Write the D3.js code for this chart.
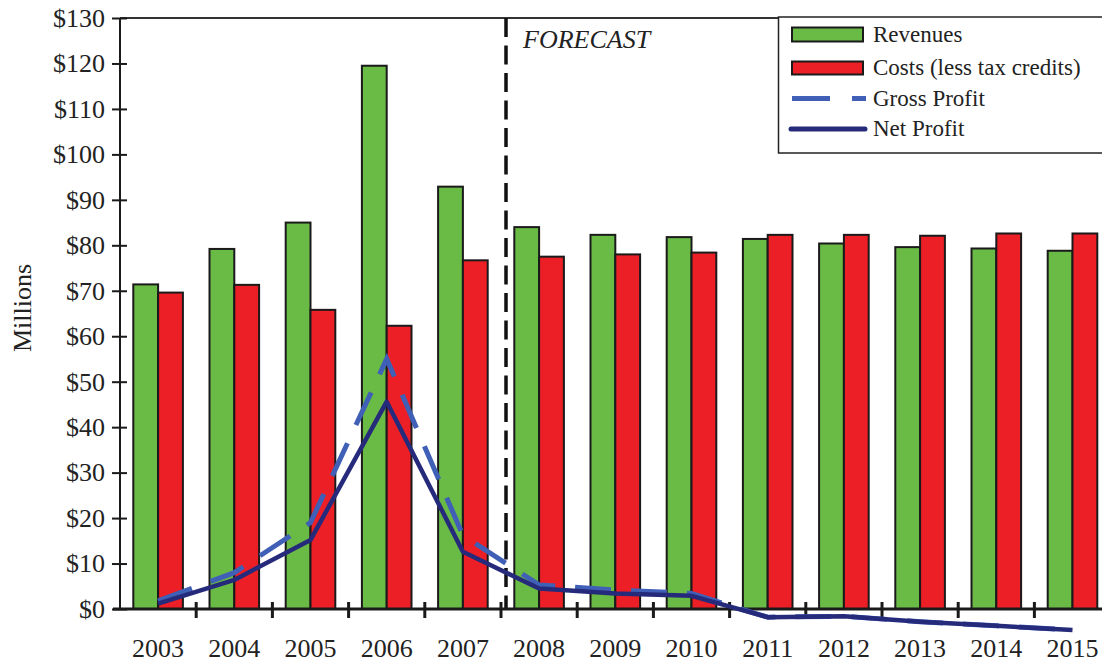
<!DOCTYPE html>
<html>
<head>
<meta charset="utf-8">
<script src="https://cdn.jsdelivr.net/npm/d3@7"></script>
<style>
  html, body { margin: 0; padding: 0; background: #fff; }
  svg { display: block; font-family: "Liberation Serif", "Times New Roman", serif; }
</style>
</head>
<body>
<svg id="chart" width="1102" height="665"></svg>
<script>
// Annual figures, $ millions
const years = ["2003","2004","2005","2006","2007","2008","2009","2010","2011","2012","2013","2014","2015"];
const revenues = [71.4, 79.2, 85.0, 119.5, 92.9, 84.0, 82.3, 81.8, 81.4, 80.4, 79.6, 79.3, 78.8];
const costs = [69.6, 71.3, 65.8, 62.3, 76.7, 77.5, 78.0, 78.4, 82.3, 82.3, 82.1, 82.6, 82.6];
const grossProfit = [1.8, 8.0, 19.0, 55.0, 16.2, 5.3, 4.2, 3.4, -1.8, -1.6, -2.8, -3.7, -4.6];
const netProfit = [1.2, 6.4, 15.2, 45.6, 12.6, 4.5, 3.4, 2.9, -1.8, -1.6, -2.8, -3.7, -4.6];
const yTicks = [0, 10, 20, 30, 40, 50, 60, 70, 80, 90, 100, 110, 120, 130];
const forecastStart = "2008";
const legendItems = ["Revenues", "Costs (less tax credits)", "Gross Profit", "Net Profit"];

const svg = d3.select("#chart");
const plotLeft = 120, plotRight = 1110.6, plotTop = 18, plotBottom = 609;

const x = d3.scaleBand().domain(years).range([plotLeft, plotRight]).padding(0);
const bw = x.bandwidth();
const inner = d3.scaleBand().domain(["rev", "cost"]).range([13.3, bw - 13.3]).padding(0);
const y = d3.scaleLinear().domain([0, 130]).range([plotBottom, plotTop]);

const GREEN = "#6aba46", RED = "#ec1f26", GROSS = "#3f60b6", NET = "#262a7b", INK = "#1a1a1a";

// top frame line
svg.append("line")
  .attr("x1", plotLeft).attr("x2", 1102).attr("y1", plotTop).attr("y2", plotTop)
  .attr("stroke", "#333").attr("stroke-width", 2);

// bars
const rows = years.map((yr, i) => ({ year: yr, rev: revenues[i], cost: costs[i] }));
const g = svg.append("g");
rows.forEach(r => {
  [["rev", GREEN], ["cost", RED]].forEach(([k, col]) => {
    g.append("rect")
      .attr("x", x(r.year) + inner(k))
      .attr("y", y(r[k]))
      .attr("width", inner.bandwidth())
      .attr("height", y(0) - y(r[k]))
      .attr("fill", col)
      .attr("stroke", INK)
      .attr("stroke-width", 2);
  });
});

// forecast divider
const fx = x(forecastStart) + 5;
svg.append("line")
  .attr("x1", fx).attr("x2", fx).attr("y1", plotTop).attr("y2", plotBottom)
  .attr("stroke", "#111").attr("stroke-width", 3.5)
  .attr("stroke-dasharray", "19,8.5");
svg.append("text")
  .attr("x", fx + 17).attr("y", 48)
  .attr("font-size", 26).attr("font-style", "italic").attr("fill", "#222")
  .text("FORECAST");

// y axis
const yAxis = svg.append("g")
  .attr("transform", `translate(${plotLeft},0)`)
  .call(d3.axisLeft(y).tickValues(yTicks).tickSize(8).tickPadding(7).tickFormat(d => "$" + d));
yAxis.select(".domain").attr("stroke", INK).attr("stroke-width", 2).attr("d", `M0,${plotTop}V${plotBottom}`);
yAxis.selectAll(".tick line").attr("x1", 7).attr("x2", -8).attr("stroke", INK).attr("stroke-width", 2);
yAxis.selectAll(".tick text").attr("font-size", 26).attr("fill", "#222")
  .attr("font-family", "Liberation Serif, serif");

// x axis line with boundary ticks
svg.append("line")
  .attr("x1", 113).attr("x2", 1102).attr("y1", y(0)).attr("y2", y(0))
  .attr("stroke", INK).attr("stroke-width", 3);
svg.append("g").selectAll("line").data(years.slice(1)).join("line")
  .attr("x1", d => x(d)).attr("x2", d => x(d))
  .attr("y1", y(0) - 7).attr("y2", y(0) + 9)
  .attr("stroke", INK).attr("stroke-width", 3);
const xAxis = svg.append("g")
  .attr("transform", `translate(0,${y(0)})`)
  .call(d3.axisBottom(x).tickSize(0).tickPadding(30));
xAxis.select(".domain").remove();
xAxis.selectAll(".tick text").attr("font-size", 26).attr("fill", "#222")
  .attr("font-family", "Liberation Serif, serif");

// y axis title
svg.append("text")
  .attr("transform", "translate(31,308) rotate(-90)")
  .attr("text-anchor", "middle")
  .attr("font-size", 26).attr("fill", "#222")
  .text("Millions");

// profit lines
const cx = d => x(d) + bw / 2;
const line = vals => d3.line().x((d, i) => cx(years[i])).y(d => y(d))(vals);
svg.append("path").attr("d", line(grossProfit))
  .attr("fill", "none").attr("stroke", GROSS).attr("stroke-width", 5)
  .attr("stroke-dasharray", "36,20");
svg.append("path").attr("d", line(netProfit))
  .attr("fill", "none").attr("stroke", NET).attr("stroke-width", 4.5)
  .attr("stroke-linejoin", "round");

// legend
const lg = svg.append("g");
lg.append("rect").attr("x", 778.5).attr("y", 17).attr("width", 340).attr("height", 136)
  .attr("fill", "#fff").attr("stroke", "#222").attr("stroke-width", 1.5);
const rowY = [34.5, 68, 98.5, 129];
lg.append("rect").attr("x", 792).attr("y", rowY[0] - 7).attr("width", 71).attr("height", 14)
  .attr("fill", GREEN).attr("stroke", INK).attr("stroke-width", 2);
lg.append("rect").attr("x", 792).attr("y", rowY[1] - 6.5).attr("width", 71).attr("height", 13)
  .attr("fill", RED).attr("stroke", INK).attr("stroke-width", 2);
lg.append("line").attr("x1", 792).attr("x2", 866).attr("y1", rowY[2]).attr("y2", rowY[2])
  .attr("stroke", GROSS).attr("stroke-width", 5).attr("stroke-dasharray", "38,22");
lg.append("line").attr("x1", 791).attr("x2", 865).attr("y1", rowY[3]).attr("y2", rowY[3])
  .attr("stroke", NET).attr("stroke-width", 5).attr("stroke-linecap", "round");
lg.selectAll("text.item").data(legendItems).join("text")
  .attr("class", "item")
  .attr("x", 873).attr("y", (d, i) => rowY[i] + 7)
  .attr("font-size", 23).attr("fill", "#222")
  .text(d => d);
</script>
</body>
</html>
